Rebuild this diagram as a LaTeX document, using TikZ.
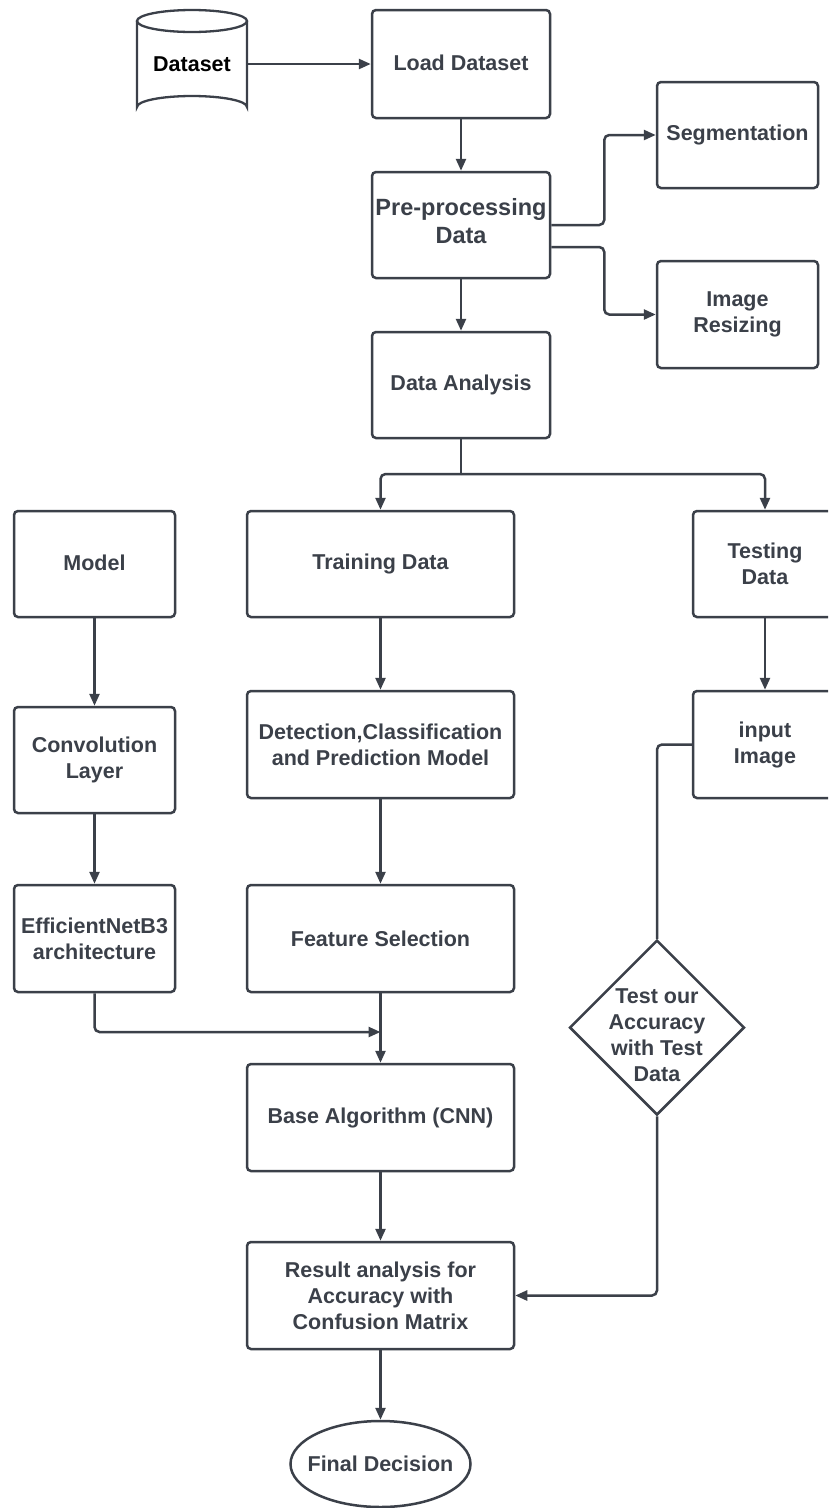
\documentclass[tikz,border=0pt]{standalone}
\usepackage{fontspec}
\setmainfont{Liberation Sans}
\usetikzlibrary{arrows.meta,shapes.geometric}
\definecolor{ink}{HTML}{3B4049}
\begin{document}
\begin{tikzpicture}[x=1pt,y=-1pt,
  every node/.style={font=\bfseries\fontsize{21.5}{26}\selectfont, text=ink, align=center, inner sep=0pt},
  box/.style={draw=ink, line width=2.5pt, rounded corners=4pt, minimum width=#1},
  box/.default=178,
  conn/.style={draw=ink, line width=2.5pt, rounded corners=5pt},
  arr/.style={conn, -{Triangle[length=12pt,width=10pt]}}
]
\useasboundingbox[fill=white] (0,0) rectangle (828,1508);
\clip (0,0) rectangle (828,1508);

% cylinder
\draw[ink, line width=2.3pt] (137,21) -- (137,107) arc[start angle=180, end angle=360, x radius=55, y radius=11] -- (247,21);
\draw[ink, line width=2.3pt] (192,21) ellipse[x radius=55, y radius=11];
\node[minimum width=110, minimum height=108, text=black] (ds) at (192,64) {\raisebox{-9pt}{Dataset}};

\node[box, minimum height=108] (load) at (461,64) {\raisebox{3pt}{Load Dataset}};
\node[box, minimum height=106] (pre) at (461,225) {};
\node[font=\bfseries\fontsize{23.5}{28}\selectfont] (pretext) at (461,221) {Pre-processing\\Data};
\node[box=161, minimum height=106] (seg) at (737.5,135) {\raisebox{2pt}{Segmentation}};
\node[box=161, minimum height=107] (resize) at (737.5,314.5) {Image\\Resizing};
\node[box, minimum height=106] (ana) at (461,385) {\raisebox{2pt}{Data Analysis}};

\node[box=161, minimum height=106] (model) at (94.5,564) {\raisebox{3pt}{Model}};
\node[box=267, minimum height=106] (train) at (380.5,564) {\raisebox{3pt}{Training Data}};
\node[box=144, minimum height=106] (test) at (765,564) {Testing\\Data};

\node[box=161, minimum height=106] (conv) at (94.5,760) {Convolution\\Layer};
\node[box=267, minimum height=107] (detect) at (380.5,744.5) {Detection,Classification\\and Prediction Model};
\node[box=144, minimum height=107] (input) at (765,744.5) {input\\Image};

\node[box=161, minimum height=107] (eff) at (94.5,938.5) {EfficientNetB3\\architecture};
\node[box=267, minimum height=107] (feat) at (380.5,938.5) {Feature Selection};

\node[draw=ink, line width=2.5pt, diamond, minimum width=175, minimum height=175] (dia) at (657,1027.5) {};
\node (diatext) at (657,1035) {Test our\\Accuracy\\with Test\\Data};

\node[box=267, minimum height=107] (base) at (380.5,1117.5) {\raisebox{2pt}{Base Algorithm (CNN)}};
\node[box=267, minimum height=107] (result) at (380.5,1295.5) {Result analysis for\\Accuracy with\\Confusion Matrix};
\node[draw=ink, line width=2.5pt, ellipse, minimum width=180, minimum height=86] (final) at (380.5,1464) {};
\node (finaltext) at (380.5,1464) {Final Decision};

\coordinate (split) at (461,474);
\coordinate (mergept) at (380.5,1032);

% connectors
\draw[arr] (ds.east) -- (load.west);
\draw[arr] (load.south) -- (pre.north);
\draw[arr] (pre.east) -- ++(53,0) |- (seg.west);
\draw[arr] ([yshift=-22pt]pre.east) -- ++(53,0) |- (resize.west);
\draw[arr] (pre.south) -- (ana.north);
\draw[conn] (ana.south) -- (split);
\draw[arr] (split) -| (train.north);
\draw[arr] (split) -| (test.north);
\draw[arr] (model.south) -- (conv.north);
\draw[arr] (conv.south) -- (eff.north);
\draw[arr] (train.south) -- (detect.north);
\draw[arr] (detect.south) -- (feat.north);
\draw[arr] (test.south) -- (input.north);
\draw[conn] (input.west) -| (dia.north);
\draw[arr] (dia.south) |- (result.east);
\draw[arr] (feat.south) -- (base.north);
\draw[arr] (eff.south) |- (mergept);
\draw[arr] (base.south) -- (result.north);
\draw[arr] (result.south) -- (final.north);
\end{tikzpicture}
\end{document}
